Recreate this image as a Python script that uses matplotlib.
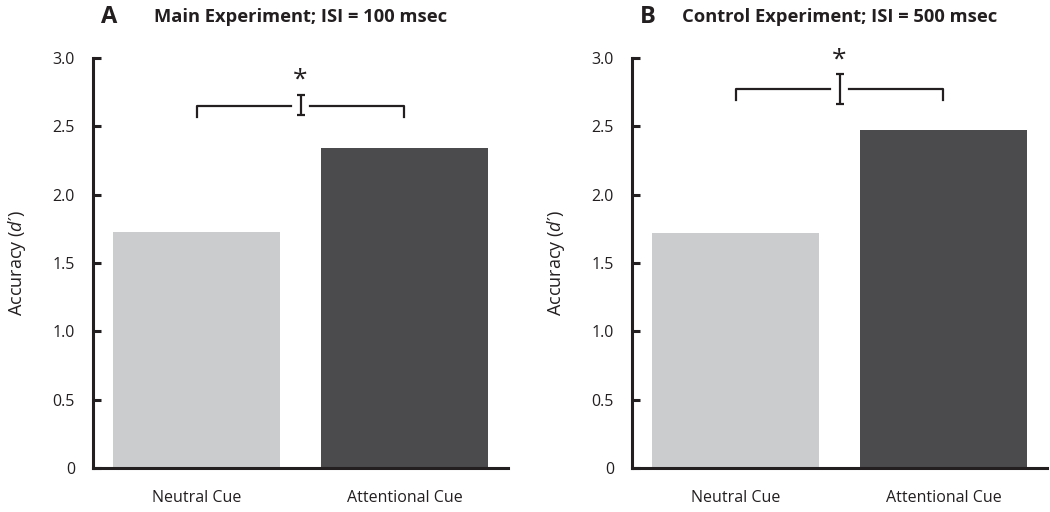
import numpy as np
import matplotlib
matplotlib.use("Agg")
import matplotlib.pyplot as plt

plt.rcParams['font.family'] = ['Open Sans', 'DejaVu Sans']
plt.rcParams['mathtext.fontset'] = 'custom'
plt.rcParams['mathtext.it'] = 'Open Sans:italic'

# data
categories = ['Neutral Cue', 'Attentional Cue']
main_acc = [1.73, 2.34]
control_acc = [1.72, 2.47]
# significance bracket: level, tick bottom, error bar low/high
main_sig = [2.65, 2.57, 2.58, 2.73]
control_sig = [2.77, 2.69, 2.66, 2.88]
letters = ['A', 'B']
titles = ['Main Experiment; ISI = 100 msec', 'Control Experiment; ISI = 500 msec']
yticks = [0, 0.5, 1.0, 1.5, 2.0, 2.5, 3.0]
ytick_labels = ['0', '0.5', '1.0', '1.5', '2.0', '2.5', '3.0']

bar_colors = ['#cbcccd', '#4b4b4d']
xpos = np.array([0.62, 1.865])

fig = plt.figure(figsize=(10.5, 5.12), dpi=100)
lefts = [93 / 1050, 632 / 1050]


def draw_panel(ax, vals, sig, letter, title):
    ax.bar(xpos, vals, width=1.0, color=bar_colors)
    ax.set_xlim(0, 2.485)
    ax.set_ylim(0, 3.0)
    ax.spines['top'].set_visible(False)
    ax.spines['right'].set_visible(False)
    ax.spines['left'].set_linewidth(2.2)
    ax.spines['bottom'].set_linewidth(2.2)
    ax.spines['left'].set_color('#231f20')
    ax.spines['bottom'].set_color('#231f20')
    ax.set_yticks(yticks)
    ax.set_yticklabels(ytick_labels, fontsize=11.5, color='#231f20')
    ax.tick_params(axis='y', direction='in', length=6, width=2.2, pad=13,
                   color='#231f20')
    ax.set_xticks(xpos)
    ax.set_xticklabels(categories, fontsize=11.5, color='#231f20')
    ax.tick_params(axis='x', length=0, pad=16)
    ax.set_ylabel(r"Accuracy ($d\prime$)", fontsize=13, color='#231f20', labelpad=18)

    level, tick_bot, lo, hi = sig
    mid = (xpos[0] + xpos[1]) / 2
    gap = 0.055
    lc = '#231f20'
    ax.plot([xpos[0], xpos[0], mid - gap], [tick_bot, level, level], color=lc, lw=1.6,
            clip_on=False)
    ax.plot([mid + gap, xpos[1], xpos[1]], [level, level, tick_bot], color=lc, lw=1.6,
            clip_on=False)
    ax.errorbar([mid], [(lo + hi) / 2], yerr=[(hi - lo) / 2], fmt='none', ecolor=lc,
                elinewidth=1.6, capsize=3, capthick=1.6, clip_on=False)
    ax.text(mid, hi + 0.015, '*', ha='center', va='bottom', fontsize=19, color=lc)

    ax.text(0.02, 1.10, letter, transform=ax.transAxes, fontsize=17,
            fontweight='bold', ha='left', va='center', color='#231f20')
    ax.text(0.5, 1.10, title, transform=ax.transAxes, fontsize=13.2,
            fontweight='bold', ha='center', va='center', color='#231f20')


for left, vals, sig, letter, title in zip(lefts, [main_acc, control_acc],
                                          [main_sig, control_sig], letters, titles):
    ax = fig.add_axes([left, 1 - 468 / 512, 415 / 1050, 410 / 512])
    draw_panel(ax, vals, sig, letter, title)

fig.savefig('out.png', dpi=100)
